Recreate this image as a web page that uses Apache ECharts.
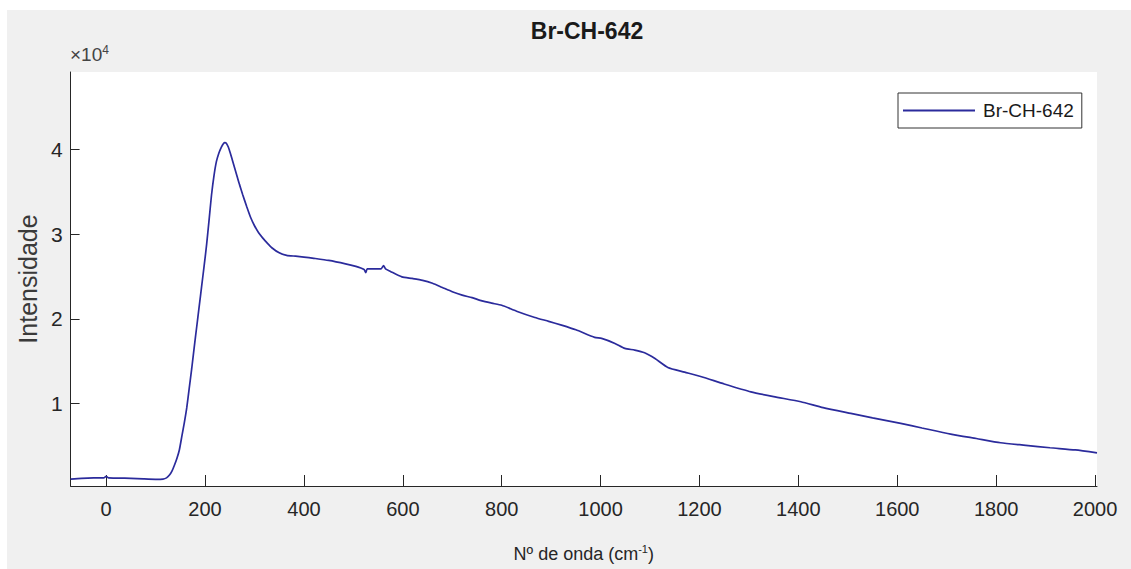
<!DOCTYPE html>
<html>
<head>
<meta charset="utf-8">
<script src="https://cdn.jsdelivr.net/npm/echarts@6/dist/echarts.min.js"></script>
<style>
  html, body { margin: 0; padding: 0; background: #ffffff; }
  #chart { position: absolute; left: 7px; top: 10px; width: 1124px; height: 559px; background: #f0f0f0; }
</style>
</head>
<body>
<div id="chart"></div>
<script>
// Raman spectrum of sample Br-CH-642: wavenumber (cm^-1) vs intensity (counts)
const seriesName = 'Br-CH-642';

const wavenumber = [
  -72, -50, -25, -5, 0, 5, 25, 50, 75, 100, 115, 122, 128, 133, 138, 143, 148, 153, 158, 163,
  168, 173, 178, 183, 188, 193, 198, 203, 208, 213, 218, 223, 228, 233, 237, 240, 243, 247,
  251, 255, 260, 265, 270, 276, 284, 292, 300, 308, 316, 325, 335, 350, 365, 383, 400, 420,
  450, 484, 505, 515, 522, 525, 528, 540, 556, 561, 565, 575, 598, 619, 640, 660, 680, 700,
  720, 740, 760, 780, 800, 830, 867, 895, 921, 950, 988, 1002, 1029, 1049, 1069, 1089, 1110,
  1136, 1170, 1204, 1250, 1304, 1350, 1405, 1450, 1506, 1550, 1607, 1650, 1708, 1760, 1809,
  1860, 1909, 1960, 2004
];

const intensity = [
  1050, 1150, 1200, 1200, 1380, 1200, 1180, 1150, 1080, 1030, 1060, 1200, 1530, 2000, 2700, 3500, 4500, 6100, 7700, 9500,
  11800, 14100, 16600, 19000, 21400, 23800, 26200, 28700, 31600, 34600, 36900, 38600, 39600, 40300, 40700, 40830, 40750, 40300,
  39600, 38800, 37800, 36800, 35800, 34700, 33300, 32000, 31000, 30200, 29600, 29000, 28400, 27800, 27500, 27400, 27300, 27150,
  26900, 26500, 26200, 26000, 25800, 25450, 25900, 25900, 25900, 26300, 25900, 25600, 24960, 24770, 24550, 24200, 23700, 23200,
  22800, 22500, 22120, 21850, 21600, 20900, 20160, 19700, 19250, 18700, 17800, 17680, 17090, 16500, 16300, 15980, 15300,
  14250, 13700, 13150, 12300, 11370, 10800, 10200, 9500, 8820, 8300, 7640, 7100, 6380, 5850, 5350,
  5050, 4760, 4500, 4150
];

// Axis ticks
const xTicks = [0, 200, 400, 600, 800, 1000, 1200, 1400, 1600, 1800, 2000];
const yTicks = [10000, 20000, 30000, 40000];
const yScaleExponent = 4;

const FONT = "'Liberation Sans', Arial, sans-serif";
const INK = '#262626';
const LINE_COLOR = '#2b2b9c';

const points = wavenumber.map((w, i) => [w, intensity[i]]);

const chart = echarts.init(document.getElementById('chart'), null, { renderer: 'svg' });

chart.setOption({
  animation: false,
  backgroundColor: '#f0f0f0',
  title: {
    text: seriesName,
    left: 575,
    top: 4,
    textAlign: 'center',
    textStyle: { fontFamily: FONT, fontWeight: 'bold', fontSize: 23, color: '#1a1a1a' }
  },
  legend: {
    data: [{ name: seriesName, icon: 'rect' }],
    left: 891,
    top: 83,
    padding: [8, 8, 8, 5],
    itemWidth: 72,
    itemHeight: 2,
    itemGap: 0,
    backgroundColor: '#ffffff',
    borderColor: '#333333',
    borderWidth: 1,
    borderRadius: 0,
    itemStyle: { color: LINE_COLOR },
    textStyle: { fontFamily: FONT, fontSize: 19, color: '#1a1a1a', padding: [0, 0, 0, 3] }
  },
  grid: {
    left: 61, top: 62, right: 34, bottom: 83,
    show: true, backgroundColor: '#ffffff', borderWidth: 0,
    containLabel: false
  },
  xAxis: {
    type: 'value',
    min: -72,
    max: 2004,
    axisLine: { show: true, onZero: false, lineStyle: { color: INK, width: 1 } },
    axisTick: { show: true, inside: true, length: 11, customValues: xTicks, lineStyle: { color: INK } },
    axisLabel: {
      customValues: xTicks,
      formatter: v => String(v),
      fontFamily: FONT, fontSize: 20, color: INK, margin: 13
    },
    splitLine: { show: false },
    name: 'Nº de onda (cm{sup|-1})',
    nameLocation: 'middle',
    nameGap: 57,
    nameTextStyle: {
      fontFamily: FONT, fontSize: 18, color: INK,
      rich: { sup: { fontFamily: FONT, fontSize: 11, color: INK, verticalAlign: 'top', padding: [0, 0, 10, 0] } }
    }
  },
  yAxis: {
    type: 'value',
    min: 240,
    max: 49170,
    axisLine: { show: true, onZero: false, lineStyle: { color: INK, width: 1 } },
    axisTick: { show: true, inside: true, length: 9, customValues: yTicks, lineStyle: { color: INK } },
    axisLabel: {
      customValues: yTicks,
      formatter: v => String(v / Math.pow(10, yScaleExponent)),
      fontFamily: FONT, fontSize: 21, color: INK, margin: 8
    },
    splitLine: { show: false },
    name: 'Intensidade',
    nameLocation: 'middle',
    nameRotate: 90,
    nameGap: 25,
    nameTextStyle: { fontFamily: FONT, fontSize: 25, color: '#3a3a3a' }
  },
  graphic: [{
    type: 'text',
    left: 63,
    top: 34,
    style: {
      text: '×10{sup|' + yScaleExponent + '}',
      fontFamily: FONT,
      fontSize: 19,
      fill: '#444444',
      rich: {
        sup: { fontFamily: FONT, fontSize: 12, fill: '#444444', verticalAlign: 'top', padding: [0, 0, 8, 0] }
      }
    }
  }],
  series: [{
    name: seriesName,
    type: 'line',
    data: points,
    symbol: 'none',
    smooth: 0.2,
    lineStyle: { color: LINE_COLOR, width: 1.7 },
    itemStyle: { color: LINE_COLOR }
  }]
});
</script>
</body>
</html>
